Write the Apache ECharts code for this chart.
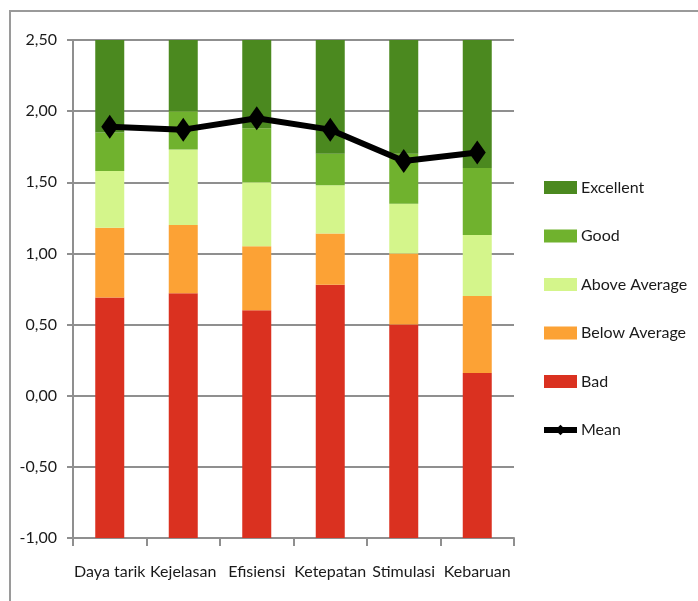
<!DOCTYPE html>
<html>
<head>
<meta charset="utf-8">
<script src="https://cdn.jsdelivr.net/npm/echarts@6/dist/echarts.min.js"></script>
<style>
  html, body { margin: 0; padding: 0; background: #fff; }
  #main { width: 698px; height: 601px; }
</style>
</head>
<body>
<div id="main"></div>
<script>
// aspek yang dinilai
var categories = ['Daya tarik', 'Kejelasan', 'Efisiensi', 'Ketepatan', 'Stimulasi', 'Kebaruan'];
// bars start at -1, each array is the height of one segment of the stack
var base = [-1, -1, -1, -1, -1, -1];
var bad = [1.69, 1.72, 1.60, 1.78, 1.50, 1.16];
var belowAverage = [0.49, 0.48, 0.45, 0.36, 0.50, 0.54];
var aboveAverage = [0.40, 0.53, 0.45, 0.34, 0.35, 0.43];
var good = [0.27, 0.27, 0.38, 0.22, 0.35, 0.47];
var excellent = [0.65, 0.50, 0.62, 0.80, 0.80, 0.90];
var mean = [1.89, 1.87, 1.95, 1.87, 1.65, 1.71];
var yTicks = [-1, 2.5, 0.5]; // min, max, interval

var font = 'Lato, "DejaVu Sans Condensed", sans-serif';
var fontSize = 16;

function barSeries(name, data, color) {
    return {
        name: name,
        type: 'bar',
        stack: 'rating',
        stackStrategy: 'all',
        barWidth: 29,
        itemStyle: { color: color },
        data: data
    };
}

var myChart = echarts.init(document.getElementById('main'));
myChart.setOption({
    animation: false,
    textStyle: { fontFamily: font },
    graphic: [{
        type: 'rect',
        shape: { x: 10, y: 11, width: 720, height: 620 },
        style: { fill: 'none', stroke: '#9a9a9a', lineWidth: 2 },
        silent: true
    }],
    grid: { left: 73, right: 184, top: 40, bottom: 63 },
    legend: {
        orient: 'vertical',
        left: 536,
        top: 173,
        itemWidth: 33,
        itemHeight: 13,
        itemGap: 29.5,
        data: [
            { name: 'Excellent', icon: 'rect' },
            { name: 'Good', icon: 'rect' },
            { name: 'Above Average', icon: 'rect' },
            { name: 'Below Average', icon: 'rect' },
            { name: 'Bad', icon: 'rect' },
            'Mean'
        ],
        lineStyle: { width: 6 },
        textStyle: { fontFamily: font, fontSize: fontSize, color: '#1a1a1a', padding: [0, 0, 0, -1], lineHeight: 19 }
    },
    xAxis: {
        type: 'category',
        data: categories,
        axisLine: { onZero: false, lineStyle: { color: '#8f8f8f', width: 2 } },
        axisTick: { show: true, length: 8, lineStyle: { color: '#8f8f8f', width: 2 } },
        axisLabel: { interval: 0, fontFamily: font, fontSize: fontSize, color: '#1a1a1a', margin: 26 }
    },
    yAxis: {
        type: 'value',
        min: yTicks[0],
        max: yTicks[1],
        interval: yTicks[2],
        axisLine: { show: true, lineStyle: { color: '#8f8f8f', width: 2 } },
        axisTick: { show: true, length: 6, lineStyle: { color: '#8f8f8f', width: 2 } },
        splitLine: { lineStyle: { color: '#8f8f8f', width: 2 } },
        axisLabel: {
            fontFamily: font, fontSize: fontSize, color: '#1a1a1a', margin: 16,
            formatter: function (v) { return v.toFixed(2).replace('.', ','); }
        }
    },
    series: [
        {
            name: 'base',
            type: 'bar',
            stack: 'rating',
            stackStrategy: 'all',
            barWidth: 29,
            itemStyle: { color: 'rgba(0,0,0,0)' },
            silent: true,
            data: base
        },
        barSeries('Bad', bad, '#da3120'),
        barSeries('Below Average', belowAverage, '#fca235'),
        barSeries('Above Average', aboveAverage, '#d4f58b'),
        barSeries('Good', good, '#70b22e'),
        barSeries('Excellent', excellent, '#4b891f'),
        {
            name: 'Mean',
            type: 'line',
            data: mean,
            symbol: 'diamond',
            symbolSize: [17, 24],
            z: 5,
            lineStyle: { color: '#000', width: 6 },
            itemStyle: { color: '#000' }
        }
    ]
});
</script>
</body>
</html>
